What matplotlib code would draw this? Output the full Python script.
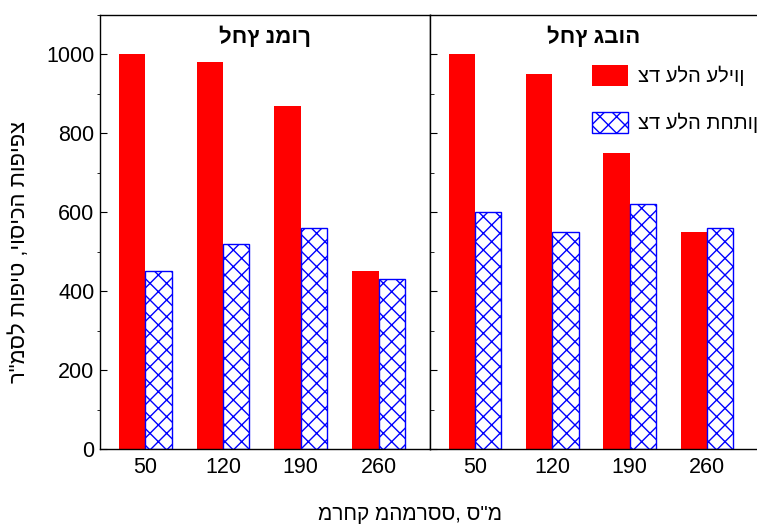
import matplotlib
matplotlib.use("Agg")
import matplotlib.pyplot as plt
import numpy as np
from matplotlib.ticker import MultipleLocator
from matplotlib.patches import Patch

plt.rcParams['font.family'] = ['Liberation Sans', 'DejaVu Sans']
plt.rcParams['hatch.linewidth'] = 1.0

# distances from the sprayer (cm)
distances = ["50", "120", "190", "260"]

# coverage density, drops per cm^2
low_upper = [1000, 980, 870, 450]
low_lower = [450, 520, 560, 430]
high_upper = [1000, 950, 750, 550]
high_lower = [600, 550, 620, 560]

panel_titles = ["לחץ נמוך", "לחץ גבוה"]
series_labels = ["צד עלה עליון", "צד עלה תחתון"]
ylabel = "צפיפות הכיסוי, טיפות לסמ\"ר"
xlabel = "מרחק מהמרסס, ס\"מ"

RED = "#ff0000"
BLUE = "#0000ff"

fig = plt.figure(figsize=(7.57, 5.24), dpi=100)
ax1 = fig.add_axes([100 / 757, 75 / 524, 330 / 757, 434 / 524])
ax2 = fig.add_axes([430 / 757, 75 / 524, 328 / 757, 434 / 524], sharey=ax1)

x = np.arange(len(distances))
w = 0.34

for ax, up, lo, title in [(ax1, low_upper, low_lower, panel_titles[0]),
                          (ax2, high_upper, high_lower, panel_titles[1])]:
    ax.bar(x - w / 2, up, w, color=RED, edgecolor='none')
    ax.bar(x + w / 2, lo, w, facecolor='white', edgecolor=BLUE,
           hatch='xx', linewidth=1.0)
    ax.set_xlim(-0.58, 3.66)
    ax.set_ylim(0, 1100)
    ax.set_xticks(x)
    ax.set_xticklabels(distances, fontsize=15.5)
    ax.tick_params(axis='x', length=0, pad=6)
    ax.text(0.5, 1 - 22 / 434, title, transform=ax.transAxes, ha='center',
            va='center', fontsize=16, fontweight='bold')
    for s in ax.spines.values():
        s.set_linewidth(1.0)

ax1.yaxis.set_major_locator(MultipleLocator(200))
ax1.tick_params(axis='y', direction='in', length=5, labelsize=15.5, pad=4)

ax2.yaxis.set_minor_locator(MultipleLocator(100))
ax2.tick_params(axis='y', which='major', direction='in', length=5,
                labelleft=False)
ax2.tick_params(axis='y', which='minor', direction='in', length=3)

handles = [Patch(facecolor=RED, edgecolor='none'),
           Patch(facecolor='white', edgecolor=BLUE, hatch='xx', linewidth=1.0)]
ax2.legend(handles, series_labels, loc='upper left',
           bbox_to_anchor=(592 / 757, 1 - 65 / 524),
           bbox_transform=fig.transFigure, frameon=False, fontsize=14.5,
           handlelength=1.8, handleheight=1.2, labelspacing=1.3,
           handletextpad=0.5, borderaxespad=0, borderpad=0)

fig.text(20 / 757, 1 - 252 / 524, ylabel[::-1], rotation=90,
         ha='center', va='center', fontsize=15.8)
fig.text(410 / 757, 1 - 515 / 524, xlabel, ha='center', va='center',
         fontsize=15)

fig.savefig("out.png", dpi=100)
